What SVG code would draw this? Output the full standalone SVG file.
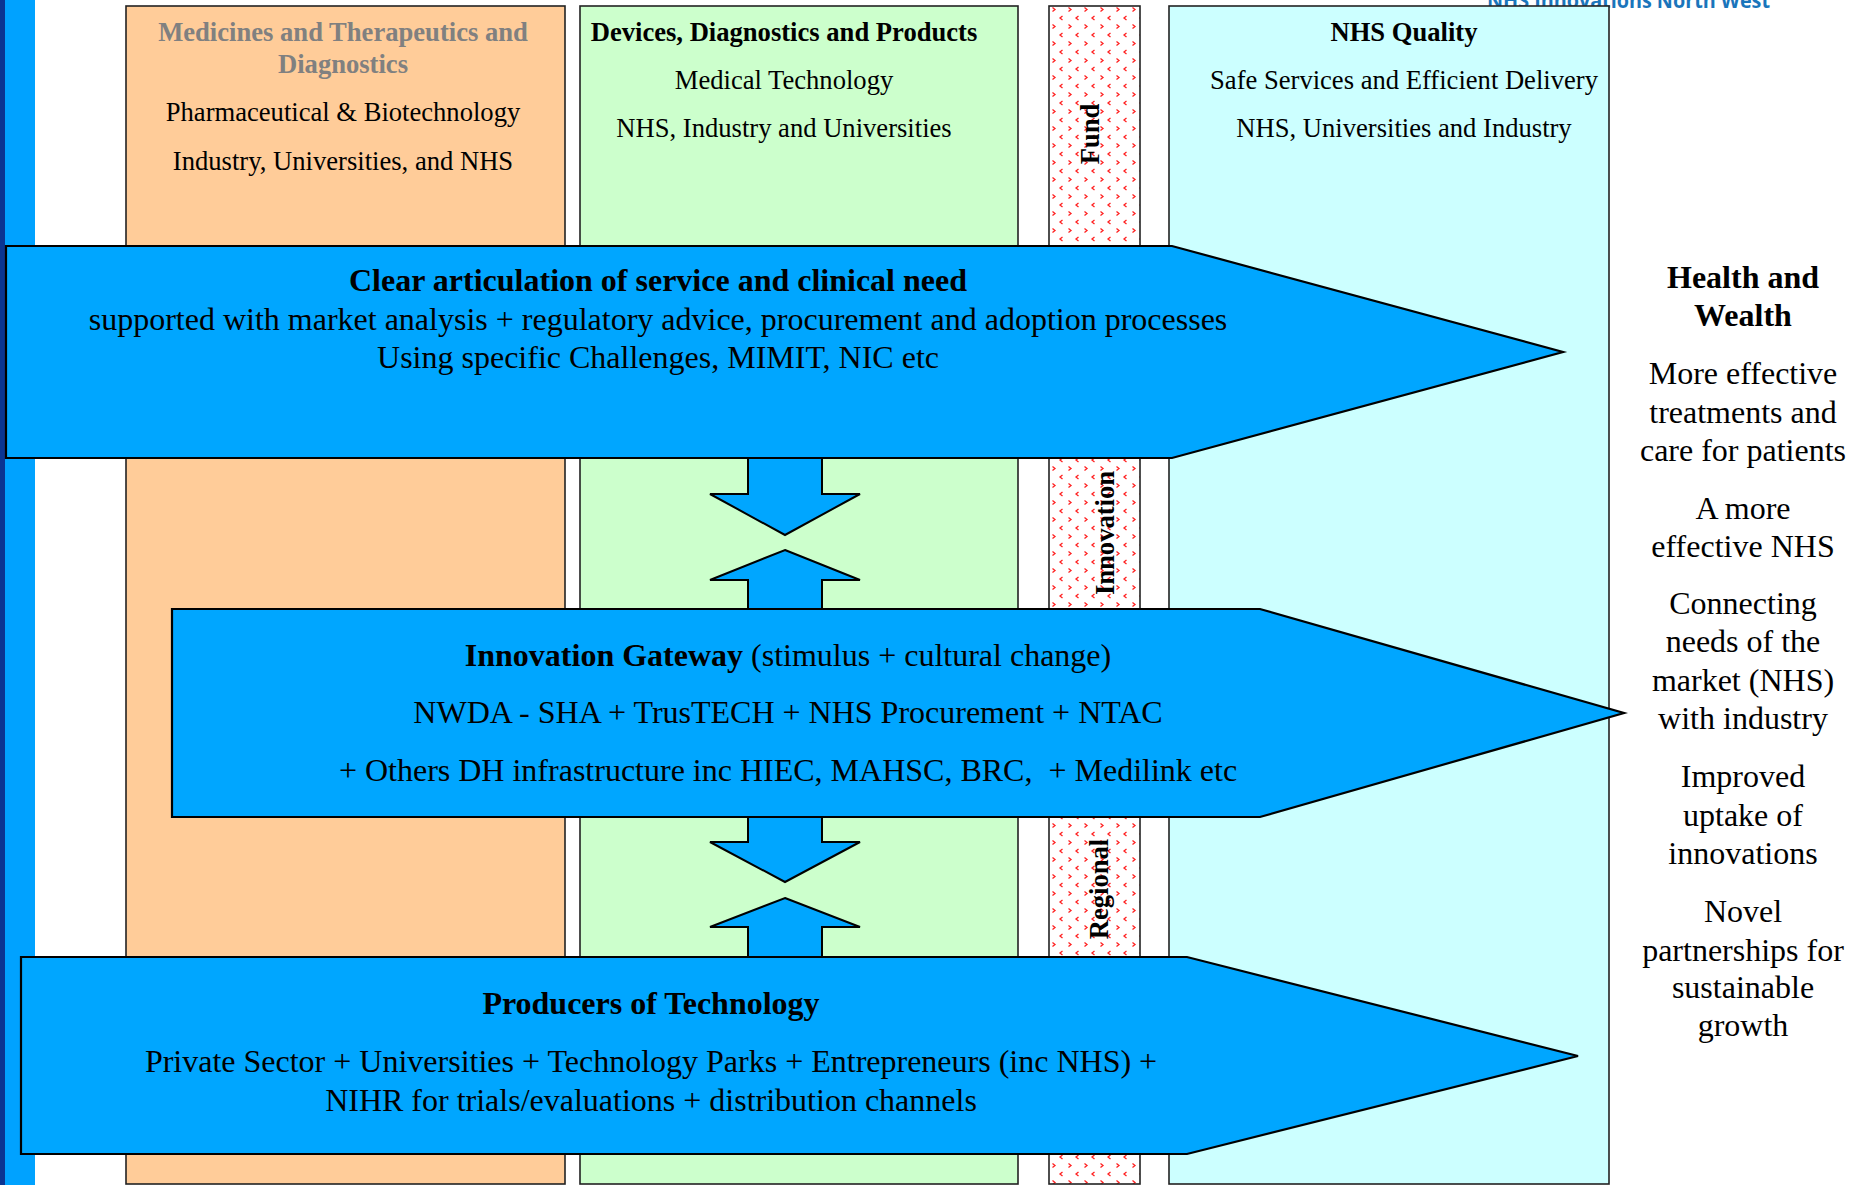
<svg xmlns="http://www.w3.org/2000/svg" width="1852" height="1185" viewBox="0 0 1852 1185">
  <style>
    .serif { font-family: "Liberation Serif", "Times New Roman", serif; }
    .box { stroke: #222; stroke-width: 1.6; }
    .band { fill: #00A6FF; stroke: #000; stroke-width: 2.2; stroke-linejoin: miter; }
    .arr { fill: #00A6FF; stroke: #000; stroke-width: 2; stroke-linejoin: miter; }
    .bt { font-family: "Liberation Serif", "Times New Roman", serif; font-size: 26.6px; fill: #000; text-anchor: middle; }
    .big { font-family: "Liberation Serif", "Times New Roman", serif; font-size: 32px; fill: #000; text-anchor: middle; }
    .b { font-weight: bold; }
    .gray { fill: #808080; }
    .vt { font-family: "Liberation Serif", "Times New Roman", serif; font-size: 26.6px; font-weight: bold; fill: #000; text-anchor: middle; }
  </style>
  <defs>
    <pattern id="dots" x="1049" y="6" width="16" height="17" patternUnits="userSpaceOnUse">
      <rect width="16" height="17" fill="#ffffff"/>
      <polyline points="3.5,1.5 6,3.5 3.5,5.5" fill="none" stroke="#ff2020" stroke-width="1.3"/>
      <polyline points="13.5,10 11,12 13.5,14" fill="none" stroke="#ff2020" stroke-width="1.3"/>
    </pattern>
  </defs>

  <rect x="0" y="0" width="1852" height="1185" fill="#ffffff"/>

  <!-- left bar -->
  <g id="left-bar">
    <rect x="0" y="0" width="35" height="1185" fill="#00A2FF"/>
    <rect x="0" y="0" width="5" height="1185" fill="#0B3592"/>
  </g>

  <!-- header -->
  <g id="header">
    <text x="1487" y="8" font-family="'Open Sans', 'Liberation Sans', sans-serif" font-weight="bold" font-size="22" fill="#1A75BB" textLength="283" lengthAdjust="spacingAndGlyphs">NHS Innovations North West</text>
  </g>

  <!-- columns -->
  <g id="col-medicines">
    <rect class="box" x="126" y="6" width="439" height="1178" fill="#FFCC99"/>
    <text class="bt b gray" x="343" y="41">Medicines and Therapeutics and</text>
    <text class="bt b gray" x="343" y="73">Diagnostics</text>
    <text class="bt" x="343" y="121">Pharmaceutical &amp; Biotechnology</text>
    <text class="bt" x="343" y="170">Industry, Universities, and NHS</text>
  </g>

  <g id="col-devices">
    <rect class="box" x="580" y="6" width="438" height="1178" fill="#CCFFCC"/>
    <text class="bt b" x="784" y="41">Devices, Diagnostics and Products</text>
    <text class="bt" x="784" y="89">Medical Technology</text>
    <text class="bt" x="784" y="137">NHS, Industry and Universities</text>
  </g>

  <g id="col-fund">
    <rect class="box" x="1049" y="6" width="91" height="1178" fill="url(#dots)"/>
    <text class="vt" transform="translate(1099,134) rotate(-90)">Fund</text>
    <text class="vt" transform="translate(1114,533) rotate(-90)">Innovation</text>
    <text class="vt" transform="translate(1108,889) rotate(-90)">Regional</text>
  </g>

  <g id="col-nhs-quality">
    <rect class="box" x="1169" y="6" width="440" height="1178" fill="#CCFFFF"/>
    <text class="bt b" x="1404" y="41">NHS Quality</text>
    <text class="bt" x="1404" y="89">Safe Services and Efficient Delivery</text>
    <text class="bt" x="1404" y="137">NHS, Universities and Industry</text>
  </g>

  <!-- connectors (small double arrows between bands) -->
  <g id="connectors">
    <polygon class="arr" points="748,458 822,458 822,494 860,494 785,535 710,494 748,494"/>
    <polygon class="arr" points="785,550 860,580 822,580 822,609 748,609 748,580 710,580"/>
    <polygon class="arr" points="748,817 822,817 822,842 860,842 785,882 710,842 748,842"/>
    <polygon class="arr" points="785,898 860,927 822,927 822,957 748,957 748,927 710,927"/>
  </g>

  <!-- bands -->
  <g id="band-need">
    <polygon class="band" points="6,246 1172,246 1563,352 1172,458 6,458"/>
    <text class="big b" x="658" y="291">Clear articulation of service and clinical need</text>
    <text class="big" x="658" y="330">supported with market analysis + regulatory advice, procurement and adoption processes</text>
    <text class="big" x="658" y="368">Using specific Challenges, MIMIT, NIC etc</text>
  </g>

  <g id="band-gateway">
    <polygon class="band" points="172,609 1260,609 1624,713 1260,817 172,817"/>
    <text class="big" x="788" y="666"><tspan class="b">Innovation Gateway</tspan> (stimulus + cultural change)</text>
    <text class="big" x="788" y="723">NWDA - SHA + TrusTECH + NHS Procurement + NTAC</text>
    <text class="big" x="788" y="781" xml:space="preserve">+ Others DH infrastructure inc HIEC, MAHSC, BRC,  + Medilink etc</text>
  </g>

  <g id="band-producers">
    <polygon class="band" points="21,957 1187,957 1578,1056 1187,1154 21,1154"/>
    <text class="big b" x="651" y="1014">Producers of Technology</text>
    <text class="big" x="651" y="1072">Private Sector + Universities + Technology Parks + Entrepreneurs (inc NHS) +</text>
    <text class="big" x="651" y="1111">NIHR for trials/evaluations + distribution channels</text>
  </g>

  <!-- outcomes column -->
  <g id="outcomes">
    <text class="big b" x="1743" y="288">Health and</text>
    <text class="big b" x="1743" y="326">Wealth</text>
    <text class="big" x="1743" y="384">More effective</text>
    <text class="big" x="1743" y="423">treatments and</text>
    <text class="big" x="1743" y="461">care for patients</text>
    <text class="big" x="1743" y="519">A more</text>
    <text class="big" x="1743" y="557">effective NHS</text>
    <text class="big" x="1743" y="614">Connecting</text>
    <text class="big" x="1743" y="652">needs of the</text>
    <text class="big" x="1743" y="691">market (NHS)</text>
    <text class="big" x="1743" y="729">with industry</text>
    <text class="big" x="1743" y="787">Improved</text>
    <text class="big" x="1743" y="826">uptake of</text>
    <text class="big" x="1743" y="864">innovations</text>
    <text class="big" x="1743" y="922">Novel</text>
    <text class="big" x="1743" y="961">partnerships for</text>
    <text class="big" x="1743" y="998">sustainable</text>
    <text class="big" x="1743" y="1036">growth</text>
  </g>
</svg>
